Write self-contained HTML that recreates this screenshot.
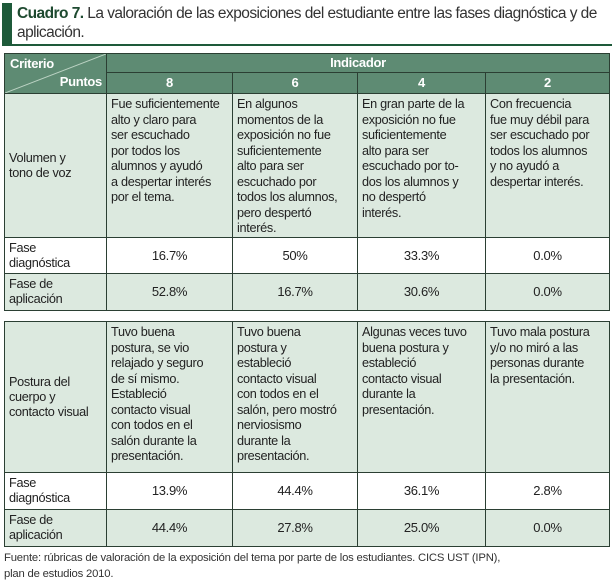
<!DOCTYPE html>
<html><head><meta charset="utf-8"><style>
body{margin:0;width:615px;height:582px;background:#fff;font-family:"Liberation Sans",sans-serif;position:relative;overflow:hidden;color:#222}
.a{position:absolute;box-sizing:border-box}
.c{position:absolute;box-sizing:border-box;border:1px solid #2b3f33;font-size:12.7px;letter-spacing:-0.3px;line-height:15.5px;white-space:nowrap;overflow:hidden}
.h{background:#5e8b73;color:#fff;font-weight:bold;font-size:13px;text-align:center;font-family:"Liberation Sans Narrow","Liberation Sans",sans-serif}
.g{background:#dce9df}
.w{background:#fff}
.d{padding:3px 4px}
.n{text-align:center;line-height:36px;font-size:13px}
.l{padding:3px 4px;display:flex;align-items:center;line-height:15px}
</style></head><body>
<div class="a" style="left:2px;top:3px;width:10px;height:42px;background:#1e5a3a"></div>
<div class="a" style="left:17px;top:4px;width:598px;font-size:15.5px;line-height:19px;color:#333;letter-spacing:-0.55px;white-space:nowrap"><b style="color:#1e4a30">Cuadro 7.</b> La valoración de las exposiciones del estudiante entre las fases diagnóstica y de<br>aplicación.</div>
<div class="a" style="left:2px;top:44px;width:610px;height:2px;background:#1e5a3a"></div>

<!-- Table 1 -->
<div class="c h" style="left:4px;top:53px;width:103px;height:41px;text-align:left">
<svg class="a" style="left:0;top:0" width="103" height="41"><line x1="0" y1="39" x2="101" y2="0" stroke="#bcd3c4" stroke-width="1"/></svg>
<span class="a" style="left:5px;top:2px">Criterio</span><span class="a" style="right:4px;top:20px">Puntos</span></div>
<div class="c h" style="left:106px;top:53px;width:504px;height:20px;line-height:18px">Indicador</div>
<div class="c h" style="left:106px;top:72px;width:127px;height:22px;line-height:20px">8</div>
<div class="c h" style="left:232px;top:72px;width:126px;height:22px;line-height:20px">6</div>
<div class="c h" style="left:357px;top:72px;width:129px;height:22px;line-height:20px">4</div>
<div class="c h" style="left:485px;top:72px;width:125px;height:22px;line-height:20px">2</div>

<div class="c g l" style="left:4px;top:93px;width:103px;height:145px">Volumen y<br>tono de voz</div>
<div class="c g d" style="left:106px;top:93px;width:127px;height:145px">Fue suficientemente<br>alto y claro para<br>ser escuchado<br>por todos los<br>alumnos y ayudó<br>a despertar interés<br>por el tema.</div>
<div class="c g d" style="left:232px;top:93px;width:126px;height:145px">En algunos<br>momentos de la<br>exposición no fue<br>suficientemente<br>alto para ser<br>escuchado por<br>todos los alumnos,<br>pero despertó<br>interés.</div>
<div class="c g d" style="left:357px;top:93px;width:129px;height:145px">En gran parte de la<br>exposición no fue<br>suficientemente<br>alto para ser<br>escuchado por to-<br>dos los alumnos y<br>no despertó<br>interés.</div>
<div class="c g d" style="left:485px;top:93px;width:125px;height:145px">Con frecuencia<br>fue muy débil para<br>ser escuchado por<br>todos los alumnos<br>y no ayudó a<br>despertar interés.</div>

<div class="c w l" style="left:4px;top:237px;width:103px;height:37px">Fase<br>diagnóstica</div>
<div class="c w n" style="left:106px;top:237px;width:127px;height:37px">16.7%</div>
<div class="c w n" style="left:232px;top:237px;width:126px;height:37px">50%</div>
<div class="c w n" style="left:357px;top:237px;width:129px;height:37px">33.3%</div>
<div class="c w n" style="left:485px;top:237px;width:125px;height:37px">0.0%</div>

<div class="c g l" style="left:4px;top:273px;width:103px;height:38px">Fase de<br>aplicación</div>
<div class="c g n" style="left:106px;top:273px;width:127px;height:38px">52.8%</div>
<div class="c g n" style="left:232px;top:273px;width:126px;height:38px">16.7%</div>
<div class="c g n" style="left:357px;top:273px;width:129px;height:38px">30.6%</div>
<div class="c g n" style="left:485px;top:273px;width:125px;height:38px">0.0%</div>

<!-- Table 2 -->
<div class="c g l" style="left:4px;top:321px;width:103px;height:152px">Postura del<br>cuerpo y<br>contacto visual</div>
<div class="c g d" style="left:106px;top:321px;width:127px;height:152px">Tuvo buena<br>postura, se vio<br>relajado y seguro<br>de sí mismo.<br>Estableció<br>contacto visual<br>con todos en el<br>salón durante la<br>presentación.</div>
<div class="c g d" style="left:232px;top:321px;width:126px;height:152px">Tuvo buena<br>postura y<br>estableció<br>contacto visual<br>con todos en el<br>salón, pero mostró<br>nerviosismo<br>durante la<br>presentación.</div>
<div class="c g d" style="left:357px;top:321px;width:129px;height:152px">Algunas veces tuvo<br>buena postura y<br>estableció<br>contacto visual<br>durante la<br>presentación.</div>
<div class="c g d" style="left:485px;top:321px;width:125px;height:152px">Tuvo mala postura<br>y/o no miró a las<br>personas durante<br>la presentación.</div>

<div class="c w l" style="left:4px;top:472px;width:103px;height:38px">Fase<br>diagnóstica</div>
<div class="c w n" style="left:106px;top:472px;width:127px;height:38px">13.9%</div>
<div class="c w n" style="left:232px;top:472px;width:126px;height:38px">44.4%</div>
<div class="c w n" style="left:357px;top:472px;width:129px;height:38px">36.1%</div>
<div class="c w n" style="left:485px;top:472px;width:125px;height:38px">2.8%</div>

<div class="c g l" style="left:4px;top:509px;width:103px;height:38px">Fase de<br>aplicación</div>
<div class="c g n" style="left:106px;top:509px;width:127px;height:38px">44.4%</div>
<div class="c g n" style="left:232px;top:509px;width:126px;height:38px">27.8%</div>
<div class="c g n" style="left:357px;top:509px;width:129px;height:38px">25.0%</div>
<div class="c g n" style="left:485px;top:509px;width:125px;height:38px">0.0%</div>

<div class="a" style="left:4px;top:550px;width:600px;font-size:11.3px;line-height:16px;color:#333;letter-spacing:-0.2px">Fuente: rúbricas de valoración de la exposición del tema por parte de los estudiantes. CICS UST (IPN),<br>plan de estudios 2010.</div>
</body></html>
